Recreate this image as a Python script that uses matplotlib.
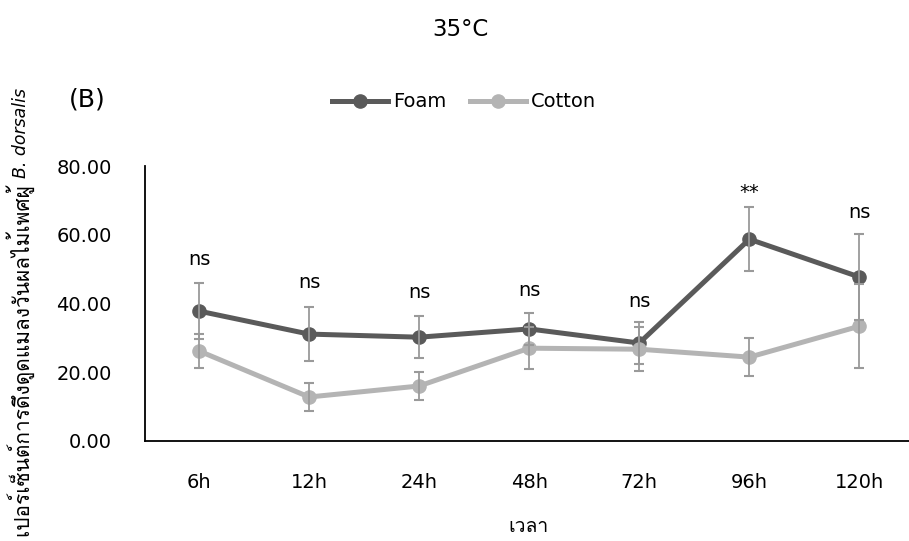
import matplotlib
matplotlib.use("Agg")
import matplotlib.pyplot as plt
from matplotlib import font_manager
from matplotlib.ft2font import FT2Font

# ข้อมูลจากกราฟ
times = ["6h", "12h", "24h", "48h", "72h", "96h", "120h"]
foam = [37.8, 31.1, 30.2, 32.6, 28.5, 58.7, 47.7]
foam_err = [8.1, 7.8, 6.1, 4.7, 6.1, 9.3, 12.5]
cotton = [26.2, 12.8, 16.0, 27.0, 26.7, 24.4, 33.4]
cotton_err = [4.9, 4.1, 4.1, 6.1, 6.4, 5.5, 12.3]
sig_labels = ["ns", "ns", "ns", "ns", "ns", "**", "ns"]
sig_y = [52.9, 46.2, 43.3, 43.9, 40.7, 72.4, 66.6]
y_ticks = [0, 20, 40, 60, 80]


def find_thai_font():
    # หาฟอนต์ที่มีตัวอักษรไทย
    for f in font_manager.fontManager.ttflist:
        try:
            if 0x0E40 in FT2Font(f.fname).get_charmap():
                return f.name
        except Exception:
            continue
    return None


thai = find_thai_font()
base = "DejaVu Sans"
fam = [thai, base] if thai else [base]
plt.rcParams["font.family"] = [base]

foam_color = "#5a5a5a"
cotton_color = "#b4b4b4"

fig = plt.figure(figsize=(9.09, 5.41), dpi=100)
ax = fig.add_axes([145 / 909, 1 - 441 / 541, 764 / 909, 275 / 541])
x = list(range(len(times)))

ax.plot(x, foam, color=foam_color, lw=3.6, marker="o", ms=9.5, label="Foam", zorder=3)
ax.plot(x, cotton, color=cotton_color, lw=3.6, marker="o", ms=9.5, label="Cotton", zorder=3)

for vals, errs in [(foam, foam_err), (cotton, cotton_err)]:
    _, caps, bars = ax.errorbar(x, vals, yerr=errs, fmt="none", ecolor="#9a9a9a",
                                elinewidth=1.3, capsize=3.5, capthick=1.5, zorder=4)
    for c in caps:
        c.set_color("#5f5f5f")

for i, (lab, yy) in enumerate(zip(sig_labels, sig_y)):
    ax.text(i, yy, lab, ha="center", va="center", fontsize=14)

ax.set_xlim(-0.49, 6.45)
ax.set_ylim(0, 80)
ax.set_xticks(x)
ax.set_xticklabels(times, fontsize=14)
ax.set_yticks(y_ticks)
ax.set_yticklabels([f"{v:.2f}" for v in y_ticks], fontsize=14)
ax.tick_params(axis="x", length=0, pad=23)
ax.tick_params(axis="y", length=0, pad=24)
for s in ["top", "right"]:
    ax.spines[s].set_visible(False)
for s in ["left", "bottom"]:
    ax.spines[s].set_linewidth(1.3)
    ax.spines[s].set_color("black")

fig.text(460 / 909, 1 - 30 / 541, "35°C", ha="center", va="center", fontsize=16.5)
fig.text(87 / 909, 1 - 100 / 541, "(B)", ha="center", va="center", fontsize=18)
fig.text(528 / 909, 1 - 527 / 541, "เวลา", ha="center", va="center", fontsize=14, family=fam)

fig.legend(loc="center", bbox_to_anchor=(464 / 909, 1 - 102 / 541), ncol=2, frameon=False,
           fontsize=14, handlelength=2.85, handletextpad=0.25, columnspacing=1.25)

# แกน y: ภาษาไทย + ชื่อวิทยาศาสตร์ตัวเอียง
t1 = fig.text(21 / 909, 1 - 537 / 541, "เปอร์เซ็นต์การดึงดูดแมลงวันผลไม้เพศผู้ ",
              rotation=90, ha="center", va="bottom", fontsize=15, family=fam)
fig.canvas.draw()
top = t1.get_window_extent().y1 / fig.bbox.height
fig.text(21 / 909, top, "B. dorsalis", rotation=90, ha="center", va="bottom",
         fontsize=12.5, style="italic")

fig.savefig("out.png", dpi=100)
